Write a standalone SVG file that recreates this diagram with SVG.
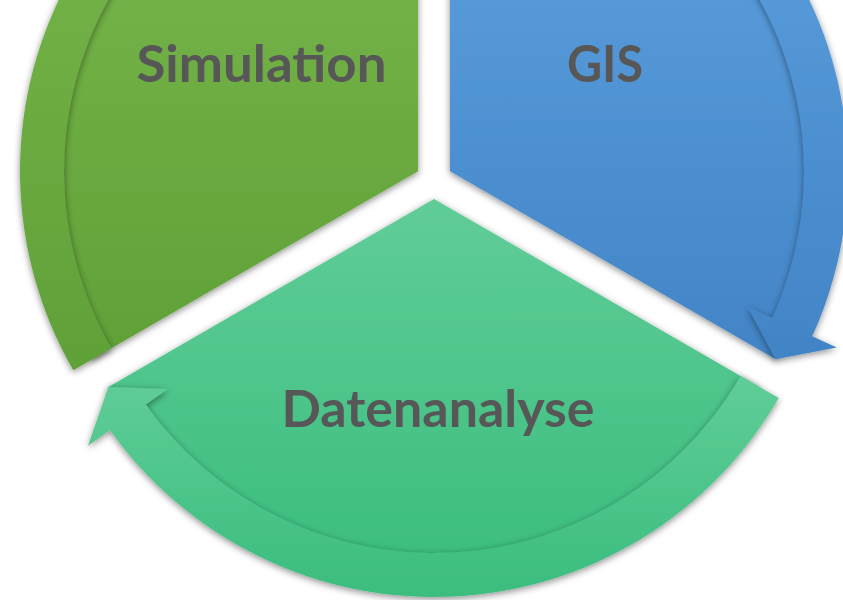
<svg xmlns="http://www.w3.org/2000/svg" width="843" height="600" viewBox="0 0 843 600">
  <style>
    .lbl { font-family: Lato, "Open Sans", "Liberation Sans", sans-serif; font-weight: bold; font-size: 52px; fill: #575757; text-anchor: middle; }
    .sh { filter: url(#shadow); }
  </style>
  <defs>
    <filter id="shadow" x="-10%" y="-10%" width="120%" height="120%">
      <feDropShadow dx="0" dy="2" stdDeviation="3.5" flood-color="#000" flood-opacity="0.45"/>
    </filter>
    <linearGradient id="gGreen" x1="0" y1="0" x2="0" y2="1">
      <stop offset="0" stop-color="#7BBB4E"/>
      <stop offset="1" stop-color="#60A038"/>
    </linearGradient>
    <linearGradient id="gBlue" x1="0" y1="0" x2="0" y2="1">
      <stop offset="0" stop-color="#60A5E3"/>
      <stop offset="1" stop-color="#4284C6"/>
    </linearGradient>
    <linearGradient id="gTeal" x1="0" y1="0" x2="0" y2="1">
      <stop offset="0" stop-color="#60CD98"/>
      <stop offset="1" stop-color="#3BBD7E"/>
    </linearGradient>
  </defs>
  <rect width="843" height="600" fill="#FFFFFF"/>

  <g id="node-simulation">
    <path class="sh" fill="url(#gGreen)" d="M418,171.25 L92.38,359.25 A376,376 0 0 1 418,-204.75 Z"/>
    <text class="lbl" x="261.5" y="82" textLength="250" lengthAdjust="spacingAndGlyphs">Simulation</text>
  </g>

  <g id="node-gis">
    <path class="sh" fill="url(#gBlue)" d="M450,171.25 L450,-204.75 A376,376 0 0 1 775.63,359.25 Z"/>
    <text class="lbl" x="605" y="82" textLength="76" lengthAdjust="spacingAndGlyphs">GIS</text>
  </g>

  <g id="node-datenanalyse">
    <path class="sh" fill="url(#gTeal)" d="M434,199 L759.63,387 A376,376 0 0 1 108.37,387 Z"/>
    <text class="lbl" x="438" y="427" textLength="313" lengthAdjust="spacingAndGlyphs">Datenanalyse</text>
  </g>

  <g id="connectors">
    <path id="arrow-simulation-gis" class="sh" fill="url(#gGreen)" d="M73.32,370.25 A398,398 0 0 1 379.85,-224.92 L377.27,-251.79 L418,-204.75 L386.66,-154.24 L384.07,-181.12 A354,354 0 0 0 111.43,348.25 Z"/>
    <path id="arrow-gis-datenanalyse" class="sh" fill="url(#gBlue)" d="M450,-226.75 A398,398 0 0 1 812.17,336.30 L836.73,347.50 L775.63,359.25 L747.56,306.86 L772.13,318.05 A354,354 0 0 0 450,-182.75 Z"/>
    <path id="arrow-datenanalyse-simulation" class="sh" fill="url(#gTeal)" d="M778.68,398 A398,398 0 0 1 109.98,430.12 L88.0,445.8 L108.37,387 L167.78,388.89 L145.80,404.57 A354,354 0 0 0 740.57,376 Z"/>
  </g>
</svg>
